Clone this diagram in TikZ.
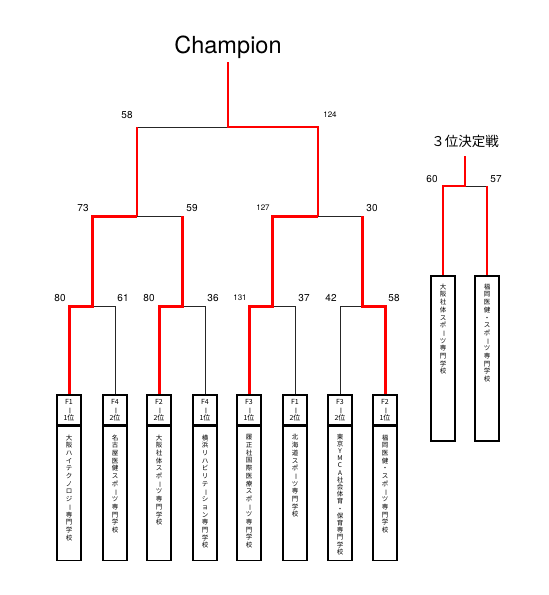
\documentclass[tikz,border=0pt]{standalone}
\usepackage{graphicx}
\usepackage{fontspec}
\setmainfont{TeX Gyre Heros}
\newfontfamily\jp{Noto Sans CJK JP}
\usepackage{tikz}
\usetikzlibrary{positioning}
\definecolor{winred}{HTML}{FF0000}
\definecolor{loseline}{HTML}{262626}

% vertical writing: one character per line
\newcommand\cho{\rotatebox[origin=c]{-90}{ー}}
\newcommand\tate[1]{\tateloop#1\relax}
\def\tateloop#1{\ifx#1\relax\else#1\par\expandafter\tateloop\fi}
\newcommand\tatepitch{7.7pt}
\newcommand\namebox[3][128pt]{\parbox[t][#1][t]{22pt}{\centering\jp\fontsize{6.5}{\tatepitch}\selectfont\vspace*{#2}\tate{#3}}}

\begin{document}
\begin{tikzpicture}[x=1pt,y=-1pt,
 win/.style={draw=winred,line width=3pt},
 winthin/.style={draw=winred,line width=1.3pt},
 lose/.style={draw=loseline,line width=0.9pt},
 head/.style={draw=black,line width=1.6pt,minimum width=24pt,minimum height=30pt,inner sep=0pt,align=center,font=\jp\fontsize{7}{8}\selectfont},
 body/.style={draw=black,line width=1.6pt,minimum width=24pt,inner xsep=1pt,inner ysep=3pt},
 score/.style={font=\fontsize{10}{12}\selectfont,inner sep=0pt},
 smallscore/.style={font=\fontsize{8}{10}\selectfont,inner sep=0pt}
]
\useasboundingbox (0,0) rectangle (549,595);

% titles
\node[anchor=base,inner sep=0pt,font=\fontsize{23.5}{27}\selectfont] (champ) at (228,53) {Champion};
\node[inner sep=0pt,font=\jp\fontsize{13.5}{16}\selectfont] (third) at (465,141) {３位決定戦};

% teams
\node[head] (h1) at (69,410) {F1\\\cho\\1位};
\node[body,below=0pt of h1] (b1) {\namebox{5pt}{大阪ハイテクノロジ\cho 専門学校}};
\node[head] (h2) at (115,410) {F4\\\cho\\2位};
\node[body,below=0pt of h2] (b2) {\namebox{5pt}{名古屋医健スポ\cho ツ専門学校}};
\node[head] (h3) at (159,410) {F2\\\cho\\2位};
\node[body,below=0pt of h3] (b3) {\namebox{5pt}{大阪社体スポ\cho ツ専門学校}};
\node[head] (h4) at (205,410) {F4\\\cho\\1位};
\node[body,below=0pt of h4] (b4) {\namebox{5pt}{横浜リハビリテ\cho ション専門学校}};
\node[head] (h5) at (249,410) {F3\\\cho\\1位};
\node[body,below=0pt of h5] (b5) {\namebox{5pt}{履正社国際医療スポ\cho ツ専門学校}};
\node[head] (h6) at (295,410) {F1\\\cho\\2位};
\node[body,below=0pt of h6] (b6) {\namebox{5pt}{北海道スポ\cho ツ専門学校}};
\node[head] (h7) at (340,410) {F3\\\cho\\2位};
\node[body,below=0pt of h7] (b7) {\renewcommand\tatepitch{7.2pt}\namebox{4pt}{東京YMCA社会体育・保育専門学校}};
\node[head] (h8) at (385,410) {F2\\\cho\\1位};
\node[body,below=0pt of h8] (b8) {\namebox{5pt}{福岡医健・スポ\cho ツ専門学校}};

% 3rd place teams
\node[body,anchor=north] (c1) at (443,275) {\namebox[159pt]{5pt}{大阪社体スポ\cho ツ専門学校}};
\node[body,anchor=north] (c2) at (487,275) {\namebox[159pt]{5pt}{福岡医健・スポ\cho ツ専門学校}};

% bracket points
\coordinate (m1) at (92,306);
\coordinate (m2) at (182,306);
\coordinate (m3) at (272,306);
\coordinate (m4) at (362,306);
\coordinate (s1) at (137,216);
\coordinate (s2) at (318,216);
\coordinate (f) at (228,127);
\coordinate (ctop) at (228,62);
\coordinate (p3) at (465,186);
\coordinate (p3top) at (465,156);

% losing lines
\draw[lose] (h2.north) |- (m1);
\draw[lose] (h4.north) |- (m2);
\draw[lose] (h6.north) |- (m3);
\draw[lose] (h7.north) |- (m4);
\draw[lose] (m2 |- s1) -- (s1);
\draw[lose] (m4 |- s2) -- (s2);
\draw[lose] (s1 |- f) -- (f);
\draw[lose] (c2.north |- p3) -- (p3);

% winning lines
\draw[win] (h1.north) |- (m1) |- (s1);
\draw[win] (h3.north) |- (m2) -- (m2 |- s1);
\draw[win] (h5.north) |- (m3) |- (s2);
\draw[win] (h8.north) |- (m4) -- (m4 |- s2);
\draw[winthin] (s1) -- (s1 |- f);
\draw[winthin] (s2) |- (f) -- (ctop);
\draw[winthin] (c1.north) |- (p3) -- (p3top);
\draw[winthin] (c2.north) -- (c2.north |- p3);

% scores
\node[score] (r1a) at (60,298) {80};
\node[score] (r1b) at (123,298) {61};
\node[score] (r2a) at (149,298) {80};
\node[score] (r2b) at (213,298) {36};
\node[smallscore] (r3a) at (240,298) {131};
\node[score] (r3b) at (304,298) {37};
\node[score] (r4a) at (331,298) {42};
\node[score] (r4b) at (394,298) {58};
\node[score] (sfa) at (83,208) {73};
\node[score] (sfb) at (192,208) {59};
\node[smallscore] (sfc) at (263,208) {127};
\node[score] (sfd) at (372,208) {30};
\node[score] (fa) at (127,115) {58};
\node[smallscore] (fb) at (330,115) {124};
\node[score] (ta) at (432,179) {60};
\node[score] (tb) at (496,179) {57};
\end{tikzpicture}
\end{document}
